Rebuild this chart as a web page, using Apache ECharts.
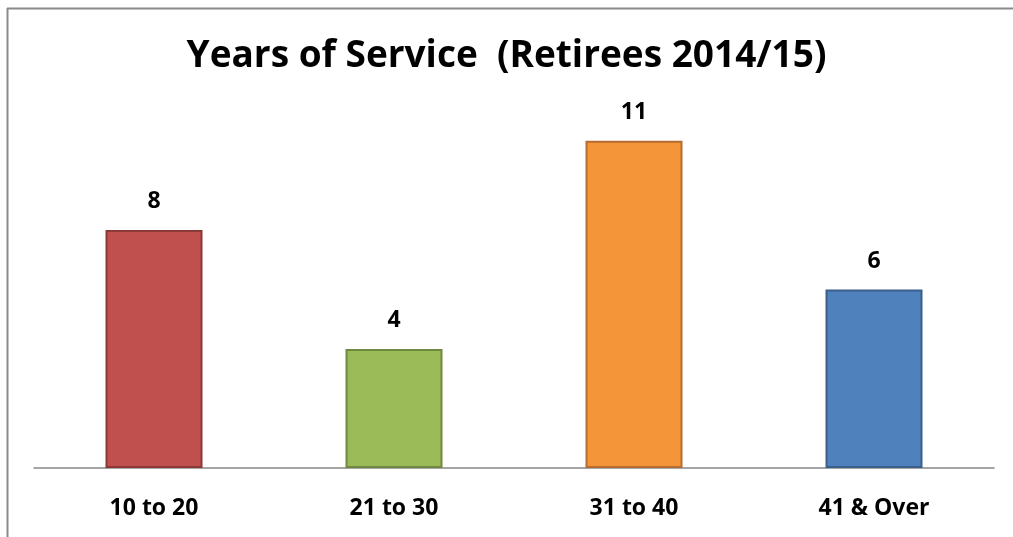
<!DOCTYPE html>
<html><head><meta charset="utf-8">
<script src="https://cdn.jsdelivr.net/npm/echarts@6/dist/echarts.min.js"></script>
<style>html,body{margin:0;padding:0;background:#fff}#c{width:1013px;height:537px}</style>
</head><body><div id="c"></div>
<script>
var categories = ['10 to 20', '21 to 30', '31 to 40', '41 & Over'];
var values = [8, 4, 11, 6];
var fills = ['#C0504D', '#9BBB59', '#F39538', '#4F81BD'];
var borders = ['#8C3836', '#71893F', '#B66D31', '#3A5F8B'];

var chart = echarts.init(document.getElementById('c'));
chart.setOption({
  animation: false,
  backgroundColor: '#fff',
  title: {
    text: 'Years of Service  (Retirees 2014/15)',
    left: 'center', top: 33,
    textStyle: { fontFamily: 'Open Sans', fontWeight: 'bold', fontSize: 37, color: '#000' }
  },
  graphic: [
    { type: 'line', shape: { x1: 7.5, y1: 8, x2: 7.5, y2: 537 }, style: { stroke: '#8a8a8a', lineWidth: 2 } },
    { type: 'line', shape: { x1: 7, y1: 8.5, x2: 1013, y2: 8.5 }, style: { stroke: '#8a8a8a', lineWidth: 2 } }
  ],
  grid: { left: 34, right: 19, top: 111, bottom: 69, containLabel: false },
  xAxis: {
    type: 'category', data: categories,
    axisLine: { lineStyle: { color: '#888', width: 1.5 } },
    axisTick: { show: false },
    axisLabel: { margin: 29, fontFamily: 'Open Sans', fontWeight: 'bold', fontSize: 23, color: '#000' }
  },
  yAxis: { type: 'value', min: 0, max: 12, show: false, splitLine: { show: false } },
  series: [{
    type: 'bar', barWidth: 97,
    data: values.map(function (v, i) {
      return { value: v, itemStyle: { color: fills[i], borderColor: borders[i], borderWidth: 2 } };
    }),
    label: { show: true, position: 'top', distance: 17, fontFamily: 'Open Sans', fontWeight: 'bold', fontSize: 23, color: '#000' }
  }]
});
</script></body></html>
